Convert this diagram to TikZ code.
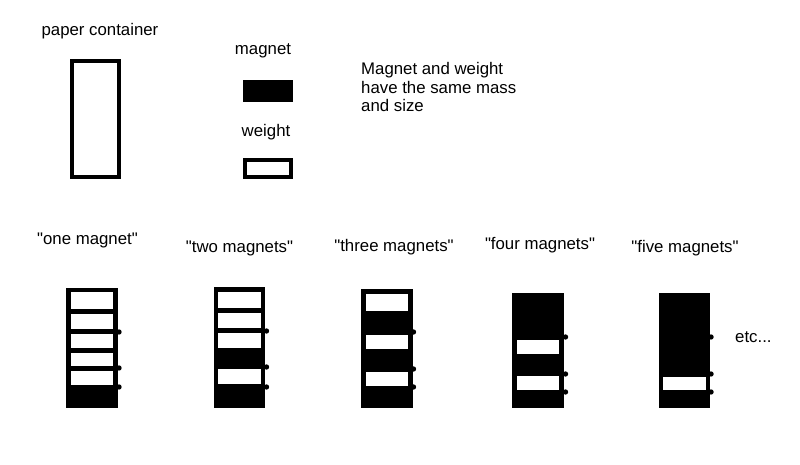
\documentclass[tikz,border=0pt]{standalone}
\usepackage{fontspec}
\setmainfont{Liberation Sans}
\newcommand{\quoted}[1]{\textquotedbl#1\textquotedbl}
\tikzset{
    outline-box/.style = {draw=black, line width=4pt, fill=white},
    magnet-box/.style = {fill=black},
    weight-slot/.style = {fill=white},
    level-line/.style = {draw=black, line width=3pt},
    level-dot/.style = {fill=black},
    label-text/.style = {font=\fontsize{16.8}{18.5}\selectfont, anchor=base, inner sep=0pt},
}

\begin{document}
\begin{tikzpicture}[x=1pt, y=-1pt]
\useasboundingbox (0,0) rectangle (800,465);
% legend
\node[label-text] (paper-label) at (100,36) {paper container};
\draw[outline-box] (72,61) rectangle (119,177);
\node[label-text] (magnet-label) at (263,55) {magnet};
\fill[magnet-box] (243,80) rectangle (293,102);
\node[label-text] (weight-label) at (266,137) {weight};
\draw[outline-box] (245,160) rectangle (291,177);
\node[label-text, anchor=base west] (note-1) at (361,75) {Magnet and weight};
\node[label-text, anchor=base west] (note-2) at (361,93.5) {have the same mass};
\node[label-text, anchor=base west] (note-3) at (361,112) {and size};

% one magnet
\node[label-text] (one-label) at (87.5,244) {\quoted{one magnet}};
\fill[magnet-box] (66,288) rectangle (118,408);
\foreach \ya/\yb in {292/309, 314/329, 334/348, 353/366, 371/385}
    \fill[weight-slot] (71,\ya) rectangle (113,\yb);
\draw[level-line] (93,331) -- (118,331);
\foreach \y in {332,368,387}
    \fill[level-dot] (119,\y) circle (2.7);

% two magnets
\node[label-text] (two-label) at (239.5,252.5) {\quoted{two magnets}};
\fill[magnet-box] (214,287) rectangle (265,408);
\foreach \ya/\yb in {292/308, 313/328, 333/348, 369/384}
    \fill[weight-slot] (218,\ya) rectangle (261,\yb);
\draw[level-line] (242,330) -- (265,330);
\foreach \y in {331,367,387}
    \fill[level-dot] (266.5,\y) circle (2.7);

% three magnets
\node[label-text] (three-label) at (394,251.5) {\quoted{three magnets}};
\fill[magnet-box] (361,289) rectangle (413,408);
\foreach \ya/\yb in {294/311, 335/349, 372/386}
    \fill[weight-slot] (366,\ya) rectangle (408,\yb);
\draw[level-line] (388,333) -- (413,333);
\foreach \y in {332,369,387}
    \fill[level-dot] (413.5,\y) circle (2.7);

% four magnets
\node[label-text] (four-label) at (540,249) {\quoted{four magnets}};
\fill[magnet-box] (512,293) rectangle (564,408);
\foreach \ya/\yb in {340/354, 376/390}
    \fill[weight-slot] (517,\ya) rectangle (559,\yb);
\draw[level-line] (540,338) -- (564,338);
\foreach \y in {337,374,392}
    \fill[level-dot] (565.5,\y) circle (2.7);

% five magnets
\node[label-text] (five-label) at (685,252.5) {\quoted{five magnets}};
\fill[magnet-box] (659,293) rectangle (710,408);
\fill[weight-slot] (663,377) rectangle (706,390);
\foreach \y in {337,374,392}
    \fill[level-dot] (711,\y) circle (2.7);

\node[label-text, anchor=base west] (etc-label) at (735,342) {etc...};
\end{tikzpicture}
\end{document}
